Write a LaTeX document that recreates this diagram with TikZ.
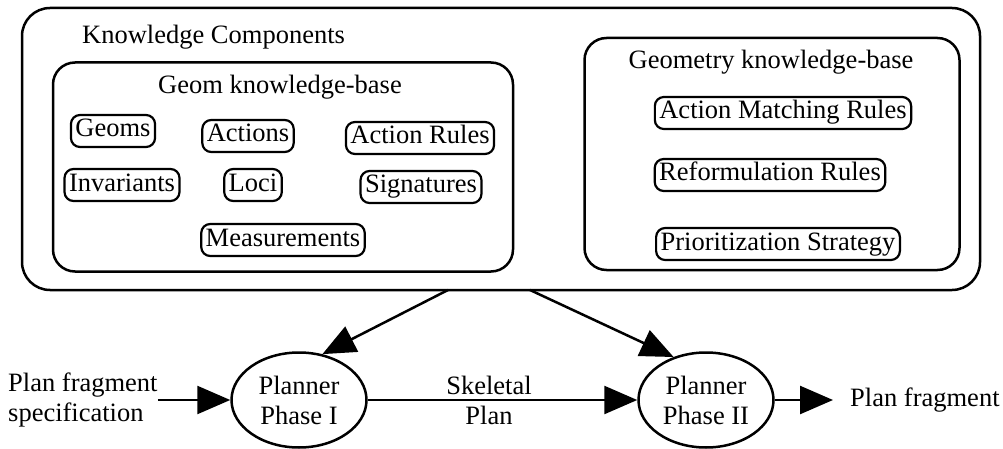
\documentclass[tikz,border=0pt]{standalone}
\usepackage{fontspec}
\setmainfont{Liberation Serif}
\usepackage{tikz}
\usetikzlibrary{arrows.meta, shapes.geometric}

\begin{document}
\begin{tikzpicture}[x=1pt, y=-1pt, font=\fontsize{26.5}{30}\selectfont,
		frame/.style={draw, line width=2.5pt, rounded corners=#1, inner sep=0pt},
		kbox/.style={draw, line width=2.2pt, rounded corners=9pt, inner xsep=4.5pt, inner ysep=4pt, text height=18pt, text depth=6pt},
		phase/.style={draw, ellipse, line width=2.5pt, minimum width=135pt, minimum height=95pt, inner sep=0pt, align=center},
		flow/.style={line width=2.5pt, -{Triangle[length=33pt, width=28pt]}}
		]
		\useasboundingbox (0,0) rectangle (1003,449);
		
		\node[frame=28pt, minimum width=958pt, minimum height=282pt] (kc) at (501,149) {};
		\node[anchor=west, inner sep=0pt] (kctitle) at (82,37) {Knowledge Components};
		
		\node[frame=22pt, minimum width=460pt, minimum height=209pt] (geomkb) at (283,167) {};
		\node (geomtitle) at (280,87) {Geom knowledge-base};
		\node[kbox] (geoms) at (113,131) {Geoms};
		\node[kbox] (actions) at (248,136) {Actions};
		\node[kbox] (actrules) at (420,138) {Action Rules};
		\node[kbox] (invariants) at (122,185) {Invariants};
		\node[kbox] (loci) at (253,185) {Loci};
		\node[kbox] (signatures) at (421,187) {Signatures};
		\node[kbox] (measure) at (283,240) {Measurements};
		
		\node[frame=22pt, minimum width=375pt, minimum height=232pt] (geokb) at (772,154) {};
		\node (geotitle) at (771,62) {Geometry knowledge-base};
		\node[kbox] (matching) at (783,113) {Action Matching Rules};
		\node[kbox] (reform) at (770,175) {Reformulation Rules};
		\node[kbox] (priority) at (778,244) {Prioritization Strategy};
		
		\node[phase] (p1) at (299,400) {Planner\\Phase I};
		\node[phase] (p2) at (706,400) {Planner\\Phase II};
		\node[align=left, inner sep=0pt, anchor=west] (spec) at (8,400) {Plan fragment\\specification};
		\node[anchor=west, inner xsep=17pt, inner ysep=0pt] (out) at (833,400) {Plan fragment};
		
		\coordinate (kcL) at (448,290);
		\coordinate (kcR) at (530,290);
		
		\draw[flow] (kcL) -- (p1.63);
		\draw[flow] (kcR) -- (p2.127);
		\draw[flow] (spec.east) -- (p1);
		\draw[flow] (p1) -- node[pos=0.45, align=center, inner sep=0pt] {Skeletal\\Plan} (p2);
		\draw[flow] (p2) -- (out);
\end{tikzpicture}
\end{document}
